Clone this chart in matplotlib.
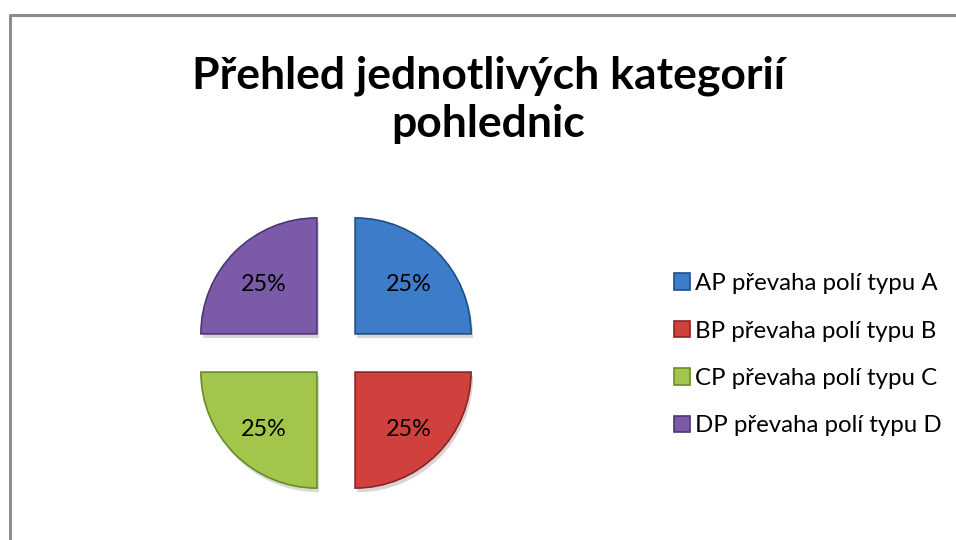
import matplotlib
matplotlib.use("Agg")
import matplotlib.pyplot as plt
import matplotlib.patheffects as pe

# data
kategorie = ["AP převaha polí typu A", "BP převaha polí typu B",
             "CP převaha polí typu C", "DP převaha polí typu D"]
hodnoty = [25, 25, 25, 25]
barvy = ["#3d7cc8", "#d0413e", "#a2c64b", "#7b5ba7"]
okraje = ["#1f4f86", "#8a2522", "#6a8a2a", "#4e3672"]

plt.rcParams['font.family'] = ['Lato', 'DejaVu Sans']

fig = plt.figure(figsize=(9.56, 5.4), dpi=100)
ax = fig.add_axes([0, 0, 1, 1])

# ramecek grafu
ax.plot([10, 10, 960], [-5, 525, 525], color="#8c8c8c", lw=2.2, solid_capstyle='butt')

# explode je v jednotkach dat (px)
wedges, texts, autotexts = ax.pie(
    hodnoty, colors=barvy, startangle=90, counterclock=False,
    center=(336, 187), radius=116, explode=[27] * 4,
    autopct='%d%%', pctdistance=0.65,
    textprops=dict(fontsize=16.8, color="black"), frame=True)
for w, e in zip(wedges, okraje):
    w.set_edgecolor(e)
    w.set_linewidth(1.2)
for t in autotexts:
    x, y = t.get_position()
    t.set_position((x, y - 4))
ax.set_xlim(0, 956)
ax.set_ylim(0, 540)
ax.axis('off')

fig.text(0.511, 0.815, "Přehled jednotlivých kategorií\npohlednic", ha='center', va='center',
         fontsize=32, fontweight='bold', linespacing=1.24)

fig.legend(wedges, kategorie, loc='center left', bbox_to_anchor=(0.6825, 0.343),
           frameon=False, fontsize=17.3, handlelength=0.68, handleheight=0.68,
           handletextpad=0.17, labelspacing=1.1)

# stin jen pod vysecemi, ne v legende
for w in wedges:
    w.set_path_effects([pe.SimplePatchShadow(offset=(1.5, -3), alpha=0.18), pe.Normal()])

fig.savefig("out.png", dpi=100)
